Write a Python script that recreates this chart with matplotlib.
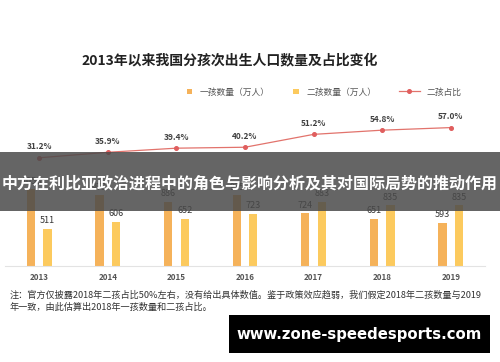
import matplotlib
matplotlib.use("Agg")
import matplotlib.pyplot as plt
import numpy as np
from matplotlib.patches import Rectangle
from matplotlib.legend_handler import HandlerPatch, update_from_first_child

plt.rcParams["font.family"] = ["Noto Sans CJK SC", "DejaVu Sans"]

years = ["2013", "2014", "2015", "2016", "2017", "2018", "2019"]
first_child = [1056, 973, 886, 975, 724, 651, 593]   # 一孩数量（万人）
second_child = [511, 606, 652, 723, 883, 835, 835]   # 二孩数量（万人）
second_share = [31.2, 35.9, 39.4, 40.2, 51.2, 54.8, 57.0]  # 二孩占比 %

C1 = "#f5b25a"
C2 = "#fcca5e"
CL = "#e2736c"


def square(legend, orig_handle, xdescent, ydescent, width, height, fontsize):
    s = min(width, height)
    return Rectangle((-xdescent + width - s, -ydescent + (height - s) / 2), s, s)


fig = plt.figure(figsize=(5, 3.62), dpi=100)
ax = fig.add_axes([0.01, 0.265, 0.96, 0.431])
x = np.arange(len(years))
w = 0.121
b1 = ax.bar(x - w, first_child, w, color=C1, label="一孩数量（万人）")
b2 = ax.bar(x + w, second_child, w, color=C2, label="二孩数量（万人）")
for xi, v in zip(x, first_child):
    ax.text(xi - w, v + 50, f"{v}", ha="center", va="bottom", fontsize=6.5, color="#333333")
for xi, v in zip(x, second_child):
    ax.text(xi + w, v + 50, f"{v}", ha="center", va="bottom", fontsize=6.5, color="#333333")
ax.set_xlim(-0.5, len(years) - 0.5)
ax.set_ylim(0, 2146)
ax.set_xticks(x)
ax.set_xticklabels(years, fontsize=5.8, color="#555555", fontweight="bold")
ax.tick_params(axis="x", length=0, pad=5)
ax.set_yticks([])
for s in ["top", "right", "left"]:
    ax.spines[s].set_visible(False)
ax.spines["bottom"].set_color("#e3e3e3")
ax.spines["bottom"].set_linewidth(0.8)

ax2 = ax.twinx()
(ln,) = ax2.plot(x, second_share, color=CL, lw=0.9, marker="o", ms=2.6,
                 mfc="#e05e5e", mec="#e05e5e", label="二孩占比")
for xi, v in zip(x, second_share):
    ax2.text(xi, v + 5.5, f"{v:.1f}%", ha="center", va="bottom", fontsize=6,
             color="#404040", fontweight="bold")
ax2.set_ylim(-61.4, 72.0)
ax2.set_yticks([])
for s in ax2.spines.values():
    s.set_visible(False)

fig.text(0.46, 1 - 60 / 362, "2013年以来我国分孩次出生人口数量及占比变化",
         ha="center", va="center", fontsize=10, fontweight="bold", color="#222222")

sq = HandlerPatch(patch_func=square, update_func=update_from_first_child)
fig.legend(handles=[b1, b2], loc="center", bbox_to_anchor=(281.5 / 500, 1 - 92 / 362),
           ncol=2, frameon=False, fontsize=6.3, labelcolor="#555555",
           handlelength=0.6, handleheight=0.6, columnspacing=2.7, handletextpad=0.9,
           borderaxespad=0, borderpad=0, handler_map={b1: sq, b2: sq})
fig.legend(handles=[ln], loc="center", bbox_to_anchor=(430 / 500, 1 - 92 / 362),
           frameon=False, fontsize=6.3, labelcolor="#555555",
           handlelength=2.4, handletextpad=0.7, borderaxespad=0, borderpad=0)

# overlay banner
fig.patches.append(Rectangle((0, 1 - 211 / 362), 1, 59 / 362, transform=fig.transFigure,
                             facecolor="#4a4a4a", alpha=0.85, zorder=5, edgecolor="none"))
fig.text(0.5, 1 - 183 / 362, "中方在利比亚政治进程中的角色与影响分析及其对国际局势的推动作用",
         ha="center", va="center", fontsize=11.5, fontweight="bold", color="white", zorder=6)

fig.text(0.02, 1 - 295 / 362,
         "注：官方仅披露2018年二孩占比50%左右，没有给出具体数值。鉴于政策效应趋弱，我们假定2018年二孩数量与2019",
         ha="left", va="center", fontsize=6.6, color="#333333")
fig.text(0.02, 1 - 307 / 362, "年一致，由此估算出2018年一孩数量和二孩占比。",
         ha="left", va="center", fontsize=6.6, color="#333333")

fig.patches.append(Rectangle((229 / 500, 1 - 353 / 362), 261 / 500, 38 / 362,
                             transform=fig.transFigure, facecolor="black", zorder=5))
fig.text(359 / 500, 1 - 334 / 362, "www.zone-speedesports.com", ha="center", va="center",
         fontsize=10.7, fontweight="bold", color="white", family="DejaVu Sans", zorder=6)

fig.savefig("out.png", dpi=100)
